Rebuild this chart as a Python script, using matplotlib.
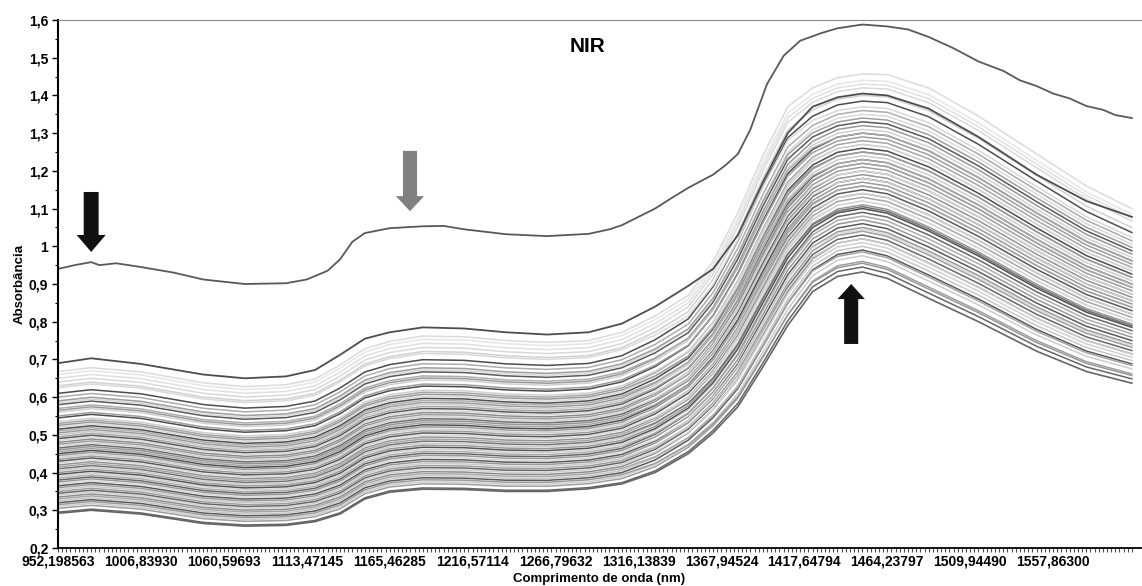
"""NIR absorbance spectra with the outlier samples marked by arrows."""

import matplotlib
matplotlib.use('Agg')
import matplotlib.pyplot as plt
import numpy as np
from matplotlib.patches import FancyArrow

plt.rcParams['font.family'] = ['Liberation Sans', 'DejaVu Sans']
plt.rcParams['font.weight'] = 'bold'

# Category index of every wavelength label (one category per detector pixel).
x_tick_pos = [0, 20, 40, 60, 80, 100, 120, 140, 160, 180, 200, 220, 240]
x_tick_labels = ['952,198563', '1006,83930', '1060,59693', '1113,47145',
                 '1165,46285', '1216,57114', '1266,79632', '1316,13839',
                 '1367,94524', '1417,64794', '1464,23797', '1509,94490',
                 '1557,86300']
n_categories = 260

y_ticks = [0.2, 0.3, 0.4, 0.5, 0.6, 0.7, 0.8, 0.9, 1.0, 1.1, 1.2, 1.3, 1.4, 1.5, 1.6]
y_tick_labels = ['0,2', '0,3', '0,4', '0,5', '0,6', '0,7', '0,8', '0,9', '1',
                 '1,1', '1,2', '1,3', '1,4', '1,5', '1,6']

idx = np.array([0, 8, 20, 35, 45, 55, 62, 68, 74, 80, 88, 98, 108, 118, 128,
                136, 144, 152, 158, 164, 170, 176, 182, 188, 194, 200, 210,
                222, 236, 248, 259])

# Outlier spectrum (top line, marked by the black and grey down arrows),
# read on its own, denser set of indices
outlier_idx = [0, 4, 8, 10, 14, 20, 28, 35, 45, 55, 60, 65, 68, 71, 74, 80,
               88, 93, 98, 108, 118, 128, 133, 136, 144, 148, 152, 158, 161,
               164, 167, 171, 175, 179, 184, 188, 194, 200, 205, 210, 216,
               222, 228, 232, 236, 240, 244, 248, 252, 255, 259]
outlier_high = [0.94, 0.95, 0.958, 0.95, 0.955, 0.945, 0.93, 0.912, 0.90,
                0.902, 0.912, 0.935, 0.965, 1.012, 1.035, 1.048, 1.053, 1.054,
                1.045, 1.032, 1.027, 1.033, 1.045, 1.056, 1.10, 1.128, 1.155,
                1.19, 1.215, 1.245, 1.31, 1.43, 1.505, 1.545, 1.565, 1.578,
                1.588, 1.583, 1.575, 1.555, 1.525, 1.49, 1.465, 1.44, 1.425,
                1.405, 1.392, 1.372, 1.362, 1.348, 1.34]
# Second highest spectrum (dark line above the bundle)
second_high = [0.69, 0.703, 0.688, 0.66, 0.65, 0.655, 0.672, 0.712, 0.755,
               0.772, 0.785, 0.782, 0.772, 0.766, 0.772, 0.795, 0.84, 0.895,
               0.94, 1.03, 1.17, 1.30, 1.37, 1.395, 1.405, 1.40, 1.365, 1.29,
               1.19, 1.12, 1.078]
# Lowest spectrum of the bundle (marked by the up arrow)
bundle_low = [0.292, 0.30, 0.29, 0.265, 0.258, 0.26, 0.27, 0.29, 0.33, 0.348,
              0.356, 0.355, 0.35, 0.35, 0.357, 0.37, 0.40, 0.45, 0.505, 0.575,
              0.68, 0.79, 0.88, 0.92, 0.932, 0.915, 0.862, 0.80, 0.722, 0.668,
              0.637]
# Highest (light) spectrum of the bundle
bundle_high = [0.668, 0.678, 0.667, 0.638, 0.628, 0.633, 0.648, 0.685, 0.728,
               0.748, 0.762, 0.76, 0.75, 0.745, 0.75, 0.772, 0.815, 0.87,
               0.96, 1.09, 1.24, 1.37, 1.42, 1.447, 1.457, 1.455, 1.42, 1.345,
               1.245, 1.16, 1.10]

# Bundle samples: absorbance at 952 nm, absorbance at the 1450 nm peak, grey level
bundle_start = [0.295, 0.305, 0.31, 0.315, 0.32, 0.325, 0.33, 0.335, 0.34,
                0.345, 0.35, 0.355, 0.36, 0.365, 0.37, 0.375, 0.38, 0.385,
                0.39, 0.395, 0.40, 0.405, 0.41, 0.415, 0.42, 0.425, 0.43,
                0.435, 0.44, 0.445, 0.45, 0.455, 0.46, 0.465, 0.47, 0.475,
                0.48, 0.485, 0.49, 0.495, 0.50, 0.505, 0.51, 0.515, 0.52,
                0.525, 0.53, 0.535, 0.545, 0.55, 0.56, 0.565, 0.57, 0.58,
                0.585, 0.59, 0.60, 0.61, 0.625, 0.63, 0.64, 0.65, 0.66]
bundle_peak = [0.945, 0.96, 0.975, 0.955, 0.99, 1.00, 0.985, 1.02, 1.01, 1.03,
               1.04, 1.02, 1.05, 1.06, 1.045, 1.07, 1.09, 1.08, 1.10, 1.10,
               1.11, 1.12, 1.105, 1.13, 1.14, 1.12, 1.15, 1.16, 1.14, 1.17,
               1.18, 1.16, 1.19, 1.20, 1.18, 1.21, 1.22, 1.20, 1.23, 1.22,
               1.24, 1.25, 1.23, 1.26, 1.27, 1.25, 1.28, 1.27, 1.30, 1.29,
               1.31, 1.32, 1.30, 1.33, 1.35, 1.34, 1.36, 1.385, 1.37, 1.40,
               1.42, 1.43, 1.44]
bundle_gray = [0.4, 0.62, 0.8, 0.6, 0.35, 0.78, 0.65, 0.55, 0.82, 0.4, 0.62,
               0.8, 0.6, 0.35, 0.85, 0.6, 0.4, 0.68, 0.82, 0.33, 0.6, 0.8, 0.45,
               0.65, 0.58, 0.85, 0.35, 0.62, 0.82, 0.6, 0.3, 0.65, 0.58, 0.42,
               0.82, 0.62, 0.55, 0.85, 0.35, 0.65, 0.8, 0.6, 0.68, 0.3, 0.85,
               0.6, 0.65, 0.82, 0.3, 0.62, 0.82, 0.6, 0.68, 0.35, 0.85, 0.62,
               0.68, 0.3, 0.85, 0.82, 0.85, 0.88, 0.9]


def main():
    fig = plt.figure(figsize=(11.42, 5.86), dpi=100)
    ax = fig.add_axes([58 / 1142, 38 / 586, 1083 / 1142, 528 / 586])

    low = np.array(bundle_low)
    high = np.array(bundle_high)
    peak_col = list(idx).index(194)
    # how far each sample moves from its 952 nm rank to its peak rank
    shift = np.interp(idx, [0, 136, 188, 259], [0, 0, 1, 1])

    for start, peak, gray in zip(bundle_start, bundle_peak, bundle_gray):
        f_start = (start - low[0]) / (high[0] - low[0])
        f_peak = (peak - low[peak_col]) / (high[peak_col] - low[peak_col])
        frac = f_start + (f_peak - f_start) * shift
        ax.plot(idx, low + frac * (high - low), color=str(gray), lw=1.1)

    ax.plot(idx, bundle_high, color='0.86', lw=1.1)
    ax.plot(idx, bundle_low, color='0.4', lw=1.2)
    ax.plot(idx, second_high, color='0.3', lw=1.3)
    ax.plot(outlier_idx, outlier_high, color='0.35', lw=1.3)

    # arrows pointing at the outlier samples
    ax.add_patch(FancyArrow(8, 1.144, 0, -0.159, width=3.6, head_width=7.0,
                            head_length=0.045, length_includes_head=True,
                            color='#111111', lw=0))
    ax.add_patch(FancyArrow(84.9, 1.253, 0, -0.160, width=3.4, head_width=6.8,
                            head_length=0.04, length_includes_head=True,
                            color='#808080', lw=0))
    ax.add_patch(FancyArrow(191.3, 0.741, 0, 0.159, width=3.4, head_width=6.6,
                            head_length=0.04, length_includes_head=True,
                            color='#111111', lw=0))

    ax.text(0.489, 0.949, 'NIR', transform=ax.transAxes, ha='center',
            va='center', fontsize=15, fontweight='bold')

    ax.set_xlim(0, 261.2)
    ax.set_ylim(0.2, 1.6)
    ax.set_xticks(x_tick_pos)
    ax.set_xticklabels(x_tick_labels, fontsize=10, fontweight='bold')
    ax.set_xticks(np.arange(n_categories), minor=True)
    ax.set_yticks(y_ticks)
    ax.set_yticklabels(y_tick_labels, fontsize=10, fontweight='bold')
    ax.set_yticks(np.arange(0.25, 1.6, 0.1), minor=True)
    ax.tick_params(axis='x', which='both', length=3, width=0.8, color='0.3',
                   pad=2)
    ax.tick_params(axis='y', which='major', length=4, width=1, pad=3)
    ax.tick_params(axis='y', which='minor', length=2, width=0.8)

    ax.set_xlabel('Comprimento de onda (nm)', fontsize=9.5, fontweight='bold',
                  labelpad=3)
    ax.set_ylabel('Absorbância', fontsize=9.5, fontweight='bold', labelpad=2)

    ax.spines['right'].set_visible(False)
    ax.spines['top'].set_color('0.55')
    ax.spines['left'].set_linewidth(1.5)
    ax.spines['bottom'].set_linewidth(1.3)

    fig.savefig('out.png', dpi=100)


if __name__ == '__main__':
    main()
